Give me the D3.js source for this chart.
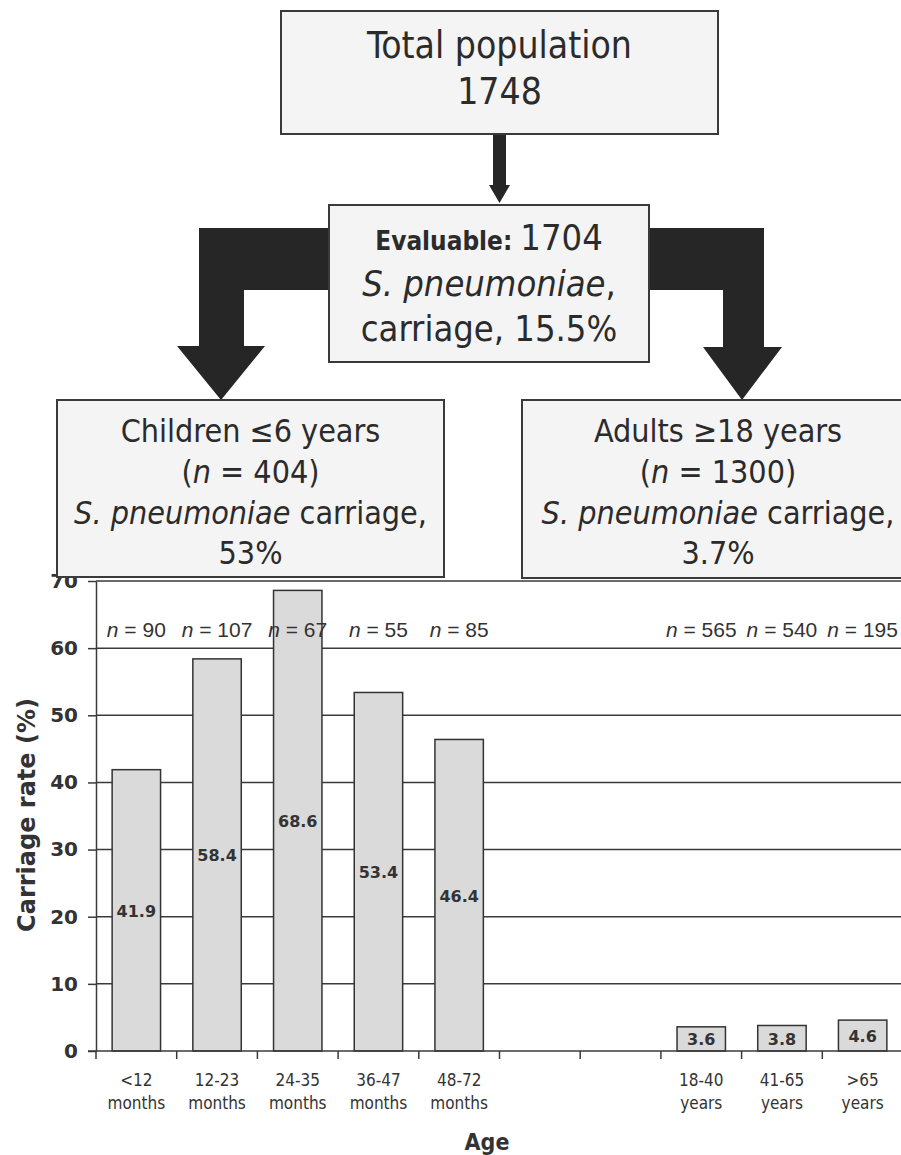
<!DOCTYPE html>
<html lang="en">
<head>
<meta charset="utf-8">
<title>S. pneumoniae carriage by age</title>
<script src="https://d3js.org/d3.v7.min.js"></script>
<style>
  body { margin: 0; background: #fff; }
  .box { fill: #f4f4f4; stroke: #3a3a3a; stroke-width: 2px; }
  .arrow { fill: #262626; }
  .flow { font-family: "DejaVu Sans Condensed", "DejaVu Sans", sans-serif; font-stretch: condensed; fill: #2b2b2b; }
  .grid { stroke: #3a3a3a; stroke-width: 1.5px; }
  .bar { fill: #dadada; stroke: #333; stroke-width: 1.5px; }
  .val { font-family: "DejaVu Sans", sans-serif; font-weight: bold; font-size: 16px; fill: #333; }
  .nlab { font-family: "Liberation Sans", Arial, sans-serif; font-size: 21px; fill: #333; }
  .xlab { font-family: "DejaVu Sans Condensed", "DejaVu Sans", sans-serif; font-stretch: condensed; font-size: 17px; fill: #333; }
  .ytick { font-family: "DejaVu Sans", sans-serif; font-weight: bold; font-size: 20px; fill: #333; }
  .title { font-family: "DejaVu Sans", sans-serif; font-weight: bold; fill: #333; }
</style>
</head>
<body>
<svg width="901" height="1155"></svg>
<script>
// chart data
const categories = ["<12", "12-23", "24-35", "36-47", "48-72", "gap1", "gap2", "18-40", "41-65", ">65"];
const units      = ["months", "months", "months", "months", "months", "", "", "years", "years", "years"];
const rates      = [41.9, 58.4, 68.6, 53.4, 46.4, null, null, 3.6, 3.8, 4.6];
const counts     = [90, 107, 67, 55, 85, null, null, 565, 540, 195];
const yTicks     = [0, 10, 20, 30, 40, 50, 60, 70];

// flowchart text (segments: [text, style])
const totalLines    = [[["Total population", ""]], [["1748", ""]]];
const evalLines     = [[["Evaluable: ", "b"], ["1704", ""]], [["S. pneumoniae", "i"], [",", ""]], [["carriage, 15.5%", ""]]];
const childrenLines = [[["Children \u22646 years", ""]], [["(", ""], ["n", "i"], [" = 404)", ""]],
                       [["S. pneumoniae", "i"], [" carriage,", ""]], [["53%", ""]]];
const adultLines    = [[["Adults \u226518 years", ""]], [["(", ""], ["n", "i"], [" = 1300)", ""]],
                       [["S. pneumoniae", "i"], [" carriage,", ""]], [["3.7%", ""]]];

const svg = d3.select("svg");
svg.append("rect").attr("width", 901).attr("height", 1155).attr("fill", "#fff");

// ---------- bar chart ----------
const x = d3.scaleBand().domain(categories).range([96, 903]).paddingInner(0.4).paddingOuter(0.2);
const y = d3.scaleLinear().domain([0, 70]).range([1051, 581]);
const rows = categories.map((c, i) => ({c, unit: units[i], rate: rates[i], n: counts[i]}));

const chart = svg.append("g");

// gridlines
chart.selectAll(".grid").data(yTicks.filter(t => t > 0)).join("line")
  .attr("class", "grid")
  .attr("x1", 96).attr("x2", 903)
  .attr("y1", d => y(d)).attr("y2", d => y(d));

// y axis
const yAxis = chart.append("g").attr("transform", "translate(96,0)")
  .call(d3.axisLeft(y).tickValues(yTicks).tickSize(8).tickSizeOuter(0).tickPadding(10));
yAxis.select(".domain").attr("stroke", "#3a3a3a").attr("stroke-width", 1.5);
yAxis.selectAll(".tick line").attr("stroke", "#3a3a3a").attr("stroke-width", 1.5);
yAxis.selectAll(".tick text").attr("class", "ytick").attr("font-family", null).attr("font-size", null);

// bars
const data = rows.filter(d => d.rate != null);
chart.selectAll(".bar").data(data).join("rect")
  .attr("class", "bar")
  .attr("x", d => x(d.c)).attr("width", x.bandwidth())
  .attr("y", d => y(d.rate)).attr("height", d => y(0) - y(d.rate));

// x axis line and slot ticks
chart.append("line").attr("x1", 88).attr("x2", 903).attr("y1", y(0)).attr("y2", y(0))
  .attr("stroke", "#3a3a3a").attr("stroke-width", 1.5);
const half = (x.step() - x.bandwidth()) / 2;
const bounds = categories.map(c => x(c) - half).concat([x(categories[categories.length - 1]) + x.bandwidth() + half]);
chart.selectAll(".xtick").data(bounds).join("line")
  .attr("x1", d => d).attr("x2", d => d).attr("y1", y(0)).attr("y2", y(0) + 8)
  .attr("stroke", "#3a3a3a").attr("stroke-width", 1.5);

// value labels
chart.selectAll(".val").data(data).join("text")
  .attr("class", "val")
  .attr("x", d => x(d.c) + x.bandwidth() / 2)
  .attr("y", d => (y(d.rate) + y(0)) / 2 + 1)
  .attr("text-anchor", "middle").attr("dominant-baseline", "central")
  .text(d => d.rate.toFixed(1));

// n labels
const nt = chart.selectAll(".nlab").data(data).join("text")
  .attr("class", "nlab")
  .attr("x", d => x(d.c) + x.bandwidth() / 2)
  .attr("y", 637)
  .attr("text-anchor", "middle");
nt.append("tspan").attr("font-style", "italic").text("n");
nt.append("tspan").text(d => " = " + d.n);

// category labels
const xl = chart.selectAll(".xlab").data(data).join("text")
  .attr("class", "xlab").attr("text-anchor", "middle");
xl.append("tspan").attr("x", d => x(d.c) + x.bandwidth() / 2).attr("y", 1086).text(d => d.c);
xl.append("tspan").attr("x", d => x(d.c) + x.bandwidth() / 2).attr("y", 1109).text(d => d.unit);

// axis titles
chart.append("text").attr("class", "title").attr("font-size", 24)
  .attr("transform", "translate(27,815) rotate(-90)")
  .attr("text-anchor", "middle").attr("dominant-baseline", "central")
  .text("Carriage rate (%)");
chart.append("text").attr("class", "title").attr("font-size", 23).attr("font-stretch", "condensed")
  .attr("x", 487).attr("y", 1150).attr("text-anchor", "middle")
  .text("Age");

// ---------- flowchart ----------
const flow = svg.append("g");

flow.append("path").attr("class", "arrow")
  .attr("d", "M340,228 H199 V346 H177 L221,400 L265,346 H244 V290 H340 Z");
flow.append("path").attr("class", "arrow")
  .attr("d", "M640,228 H764 V347 H782 L742,400 L703,347 H723 V290 H640 Z");
flow.append("path").attr("class", "arrow")
  .attr("d", "M493,134 H506 V185 H510 L499.5,203 L489,185 H493 Z");

function box(bx, by, bw, bh, lines, size, baselines) {
  flow.append("rect").attr("class", "box").attr("x", bx).attr("y", by).attr("width", bw).attr("height", bh);
  lines.forEach((segs, i) => {
    const t = flow.append("text").attr("class", "flow")
      .attr("x", bx + bw / 2).attr("y", baselines[i])
      .attr("text-anchor", "middle").attr("font-size", size);
    segs.forEach(([txt, st]) => {
      const s = t.append("tspan").text(txt);
      if (st === "i") s.attr("font-style", "italic");
      if (st === "b") s.attr("font-weight", "bold").attr("font-size", size * 0.72);
    });
  });
}

box(281, 11, 437, 123, totalLines, 37, [58, 104]);
box(329, 205, 320, 157, evalLines, 36, [250, 296, 341]);
box(57, 400, 387, 177, childrenLines, 32, [442, 483, 524, 564]);
box(522, 400, 392, 178, adultLines, 32, [442, 483, 524, 564]);
</script>
</body>
</html>
